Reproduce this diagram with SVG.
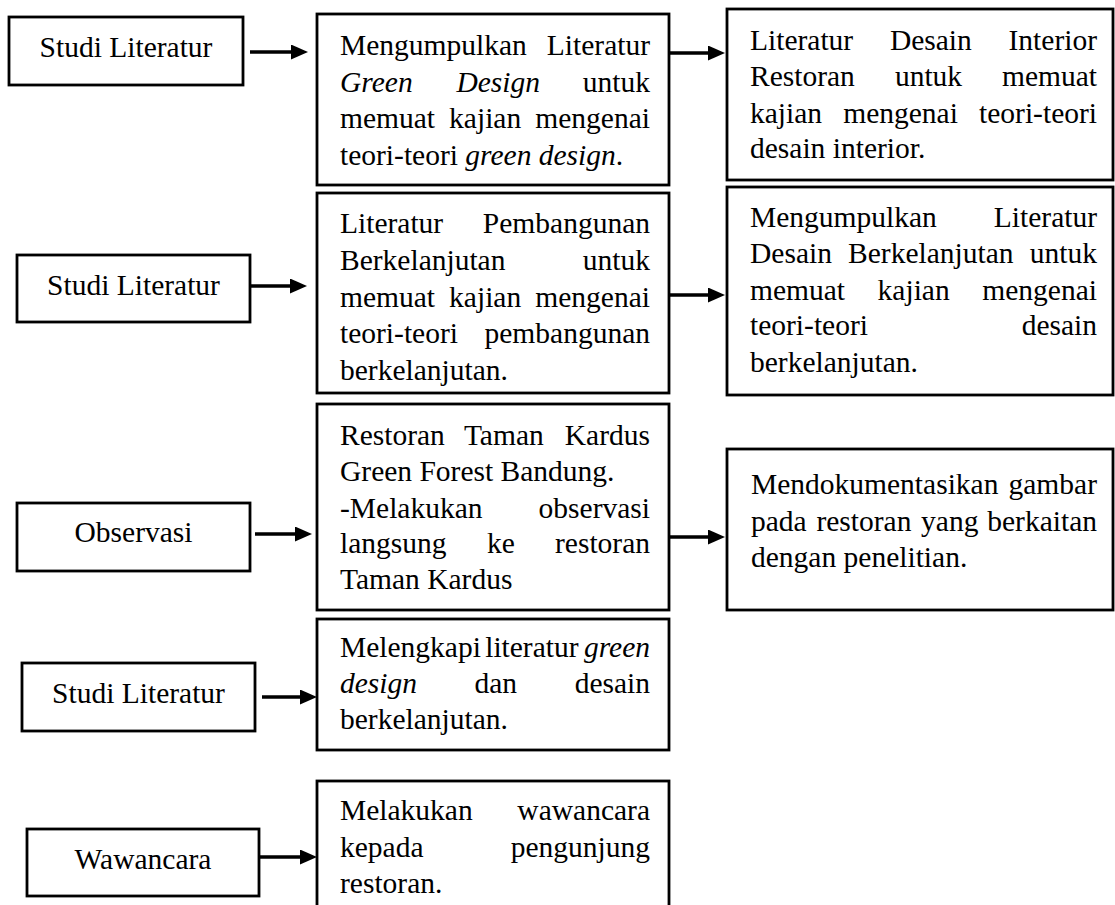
<svg xmlns="http://www.w3.org/2000/svg" width="1115" height="905" viewBox="0 0 1115 905">
<style>
.box{fill:#fff;stroke:#000;stroke-width:2.8}
text{font-family:"Liberation Serif","Times New Roman",serif;font-size:29.5px;fill:#000}
.i{font-style:italic}
.c{text-anchor:middle}
.e{text-anchor:end}
.conn{stroke:#000;stroke-width:3.5;fill:none}
</style>
<defs>
<marker id="ah" viewBox="0 0 17 15" refX="0" refY="7.5" markerWidth="17" markerHeight="15" markerUnits="userSpaceOnUse" orient="auto">
<path d="M0,0 L17,7.5 L0,15 z" fill="#000"/>
</marker>
</defs>
<rect width="1115" height="905" fill="#fff"/>

<g id="connectors">
<path class="conn" d="M250,52 H291" marker-end="url(#ah)"/>
<path class="conn" d="M669,53 H708" marker-end="url(#ah)"/>
<path class="conn" d="M250,286 H290" marker-end="url(#ah)"/>
<path class="conn" d="M669,295 H708" marker-end="url(#ah)"/>
<path class="conn" d="M255,534 H295" marker-end="url(#ah)"/>
<path class="conn" d="M669,537 H708" marker-end="url(#ah)"/>
<path class="conn" d="M262,697 H300" marker-end="url(#ah)"/>
<path class="conn" d="M260,857 H300" marker-end="url(#ah)"/>
</g>

<g id="n1">
<rect class="box" x="9" y="17" width="234" height="68"/>
<text class="c" x="126" y="56.5">Studi Literatur</text>
</g>

<g id="n2">
<rect class="box" x="317" y="14" width="352" height="171"/>
<text x="340" y="55">Mengumpulkan</text><text class="e" x="650" y="55">Literatur</text>
<text class="i" x="340" y="92">Green</text><text class="i" x="456.4" y="92">Design</text><text class="e" x="650" y="92">untuk</text>
<text x="340" y="128">memuat</text><text x="449.1" y="128">kajian</text><text class="e" x="650" y="128">mengenai</text>
<text x="340" y="165">teori-teori <tspan class="i">green design</tspan>.</text>
</g>

<g id="n3">
<rect class="box" x="727" y="9" width="386" height="171"/>
<text x="750" y="50">Literatur</text><text x="889.9" y="50">Desain</text><text class="e" x="1097" y="50">Interior</text>
<text x="750" y="86">Restoran</text><text x="894.9" y="86">untuk</text><text class="e" x="1097" y="86">memuat</text>
<text x="750" y="123">kajian</text><text x="843.2" y="123">mengenai</text><text class="e" x="1097" y="123">teori-teori</text>
<text x="750" y="158">desain interior.</text>
</g>

<g id="n4">
<rect class="box" x="17" y="255" width="233" height="67"/>
<text class="c" x="133.5" y="295">Studi Literatur</text>
</g>

<g id="n5">
<rect class="box" x="317" y="193" width="352" height="200"/>
<text x="340" y="233">Literatur</text><text class="e" x="650" y="233">Pembangunan</text>
<text x="340" y="270">Berkelanjutan</text><text class="e" x="650" y="270">untuk</text>
<text x="340" y="307">memuat</text><text x="449.1" y="307">kajian</text><text class="e" x="650" y="307">mengenai</text>
<text x="340" y="343">teori-teori</text><text class="e" x="650" y="343">pembangunan</text>
<text x="340" y="380">berkelanjutan.</text>
</g>

<g id="n6">
<rect class="box" x="727" y="187" width="386" height="208"/>
<text x="750" y="227">Mengumpulkan</text><text class="e" x="1097" y="227">Literatur</text>
<text x="750" y="263">Desain</text><text x="848.1" y="263">Berkelanjutan</text><text class="e" x="1097" y="263">untuk</text>
<text x="750" y="300">memuat</text><text x="877.6" y="300">kajian</text><text class="e" x="1097" y="300">mengenai</text>
<text x="750" y="335">teori-teori</text><text class="e" x="1097" y="335">desain</text>
<text x="750" y="372">berkelanjutan.</text>
</g>

<g id="n7">
<rect class="box" x="17" y="503" width="233" height="68"/>
<text class="c" x="133.5" y="542">Observasi</text>
</g>

<g id="n8">
<rect class="box" x="317" y="404" width="352" height="206"/>
<text x="340" y="445">Restoran</text><text x="463.9" y="445">Taman</text><text class="e" x="650" y="445">Kardus</text>
<text x="340" y="481">Green Forest Bandung.</text>
<text x="340" y="518">-Melakukan</text><text class="e" x="650" y="518">observasi</text>
<text x="340" y="553">langsung</text><text x="486.9" y="553">ke</text><text class="e" x="650" y="553">restoran</text>
<text x="340" y="589">Taman Kardus</text>
</g>

<g id="n9">
<rect class="box" x="727" y="449" width="386" height="161"/>
<text x="751" y="494">Mendokumentasikan</text><text class="e" x="1097" y="494">gambar</text>
<text x="751" y="531">pada</text><text x="816.4" y="531">restoran</text><text x="921.1" y="531">yang</text><text class="e" x="1097" y="531">berkaitan</text>
<text x="751" y="567">dengan penelitian.</text>
</g>

<g id="n10">
<rect class="box" x="317" y="619" width="352" height="131"/>
<text x="340" y="657">Melengkapi</text><text x="485.2" y="657">literatur</text><text class="e i" x="650" y="657">green</text>
<text class="i" x="340" y="693">design</text><text x="474.5" y="693">dan</text><text class="e" x="650" y="693">desain</text>
<text x="340" y="729">berkelanjutan.</text>
</g>

<g id="n12">
<rect class="box" x="22" y="663" width="233" height="68"/>
<text class="c" x="138.5" y="703">Studi Literatur</text>
</g>

<g id="n11">
<rect class="box" x="317" y="781" width="352" height="140"/>
<text x="340" y="820">Melakukan</text><text class="e" x="650" y="820">wawancara</text>
<text x="340" y="857">kepada</text><text class="e" x="650" y="857">pengunjung</text>
<text x="340" y="893">restoran.</text>
</g>

<g id="n13">
<rect class="box" x="27" y="829" width="232" height="67"/>
<text class="c" x="143" y="869">Wawancara</text>
</g>
</svg>
